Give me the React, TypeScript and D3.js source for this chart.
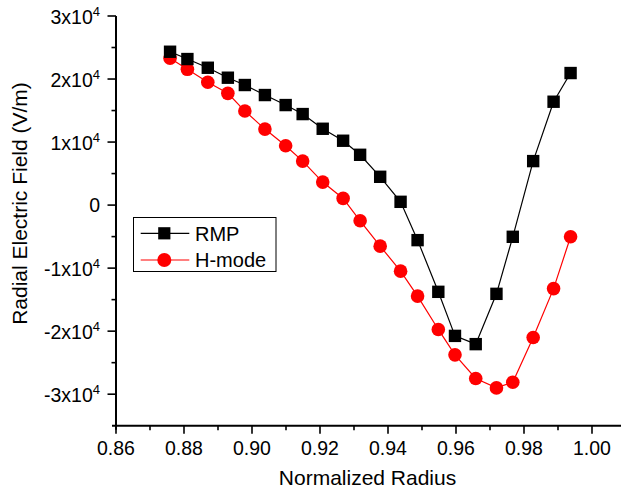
import * as d3 from "d3";

// normalized radius (shared by both profiles)
const radius = [
  0.8759, 0.881, 0.887, 0.8929, 0.8979, 0.9038, 0.9099, 0.9149, 0.9208, 0.9268, 0.9318,
  0.9377, 0.9437, 0.9487, 0.9548, 0.9597, 0.9658, 0.9719, 0.9767, 0.9827, 0.9887, 0.9937,
];
const rmp = [
  24330, 23170, 21790, 20210, 19050, 17460, 15870, 14440, 12110, 10210, 7980,
  4490, 520, -5560, -13760, -20750, -22060, -14080, -5030, 6980, 16400, 20950,
];
const hmode = [
  23290, 21540, 19480, 17730, 14920, 12060, 9410, 6980, 3650, 1060, -2490,
  -6510, -10480, -14440, -19730, -23760, -27510, -29000, -28100, -21000, -13250, -5030,
];
const xTicks = [0.86, 0.88, 0.9, 0.92, 0.94, 0.96, 0.98, 1.0];
const xMinor = [0.87, 0.89, 0.91, 0.93, 0.95, 0.97, 0.99];
const yTicks = [-3, -2, -1, 0, 1, 2, 3];
const yMinor = [-2.5, -1.5, -0.5, 0.5, 1.5, 2.5];

const W = 621;
const H = 494;
const font = "'Liberation Sans', Arial, Helvetica, sans-serif";

export default function App() {
  const x = d3.scaleLinear().domain([0.86, 1.01]).range([116, 626]);
  const y = d3.scaleLinear().domain([-35000, 30000]).range([425.7, 16]);
  const line = d3
    .line<number>()
    .x((_, i) => x(radius[i]))
    .y((d) => y(d));

  const x0 = x(0.86);
  const yb = y(-35000);

  return (
    <svg
      width={W}
      height={H}
      style={{ position: "absolute", left: 0, top: 0, background: "white" }}
      fontFamily={font}
    >
      {/* data */}
      <path d={line(rmp)!} fill="none" stroke="black" strokeWidth={1.2} />
      <path d={line(hmode)!} fill="none" stroke="#ff0000" strokeWidth={1.2} />
      {hmode.map((v, i) => (
        <circle key={"h" + i} cx={x(radius[i])} cy={y(v)} r={6.8} fill="#ff0000" />
      ))}
      {rmp.map((v, i) => (
        <rect
          key={"r" + i}
          x={x(radius[i]) - 6.2}
          y={y(v) - 6.2}
          width={12.4}
          height={12.4}
          fill="black"
        />
      ))}

      {/* x axis */}
      <line x1={x0 - 4} x2={W} y1={yb} y2={yb} stroke="black" strokeWidth={2} />
      {xTicks.map((t) => (
        <g key={"xt" + t}>
          <line x1={x(t)} x2={x(t)} y1={yb} y2={yb + 8} stroke="black" strokeWidth={1.6} />
          <text x={x(t)} y={yb + 29} textAnchor="middle" fontSize={19.5}>
            {t.toFixed(2)}
          </text>
        </g>
      ))}
      {xMinor.map((t) => (
        <line key={"xm" + t} x1={x(t)} x2={x(t)} y1={yb} y2={yb + 4.5} stroke="black" strokeWidth={1.6} />
      ))}

      {/* y axis */}
      <line x1={x0} x2={x0} y1={y(30000)} y2={yb + 4} stroke="black" strokeWidth={2} />
      {yTicks.map((t) => (
        <g key={"yt" + t}>
          <line x1={x0 - 8.5} x2={x0} y1={y(t * 1e4)} y2={y(t * 1e4)} stroke="black" strokeWidth={1.6} />
          {t === 0 ? (
            <text x={100} y={y(0) + 6.5} textAnchor="end" fontSize={19.5}>
              0
            </text>
          ) : (
            <text x={100} y={y(t * 1e4) + 8} textAnchor="end" fontSize={19.5}>
              <tspan>{`${t}x10`}</tspan>
              <tspan dy={-8} fontSize={13}>
                4
              </tspan>
            </text>
          )}
        </g>
      ))}
      {yMinor.map((t) => (
        <line key={"ym" + t} x1={x0 - 4.5} x2={x0} y1={y(t * 1e4)} y2={y(t * 1e4)} stroke="black" strokeWidth={1.6} />
      ))}

      {/* titles */}
      <text x={367.5} y={485} textAnchor="middle" fontSize={21}>
        Normalized Radius
      </text>
      <text transform="translate(27,203.5) rotate(-90)" textAnchor="middle" fontSize={21}>
        Radial Electric Field (V/m)
      </text>

      {/* legend */}
      <rect x={133.5} y={217.5} width={142.5} height={54} fill="white" stroke="black" strokeWidth={1} />
      <line x1={140.7} x2={189.3} y1={233.3} y2={233.3} stroke="black" strokeWidth={1.2} />
      <rect x={158.2} y={227.2} width={12.2} height={12.2} fill="black" />
      <text x={195} y={240.5} fontSize={20}>
        RMP
      </text>
      <line x1={140.7} x2={189.3} y1={260} y2={260} stroke="#ff0000" strokeWidth={1.2} />
      <circle cx={164.3} cy={260} r={7} fill="#ff0000" />
      <text x={195} y={267} fontSize={20}>
        H-mode
      </text>
    </svg>
  );
}
